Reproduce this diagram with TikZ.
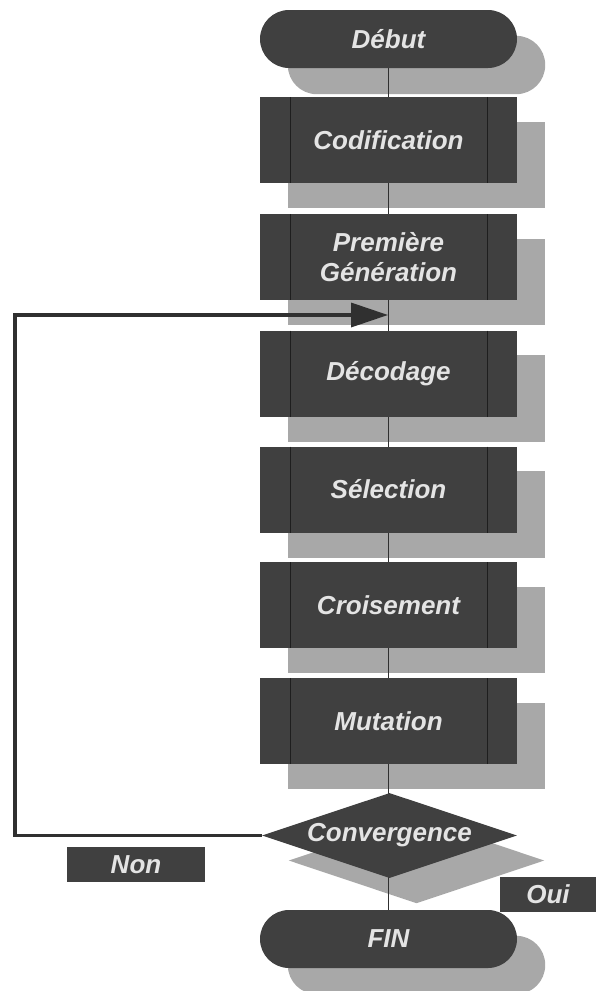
\documentclass[tikz,border=0pt]{standalone}
\usepackage{fontspec}
\usetikzlibrary{arrows.meta,shapes.geometric}
\newfontfamily\labfont{Liberation Sans}
\definecolor{boxc}{HTML}{404040}
\definecolor{shadc}{HTML}{A8A8A8}
\definecolor{txtc}{HTML}{E4E4E4}
\definecolor{linec}{HTML}{303030}
\definecolor{innerc}{HTML}{1E1E1E}
\pgfdeclarelayer{shadowlayer}
\pgfdeclarelayer{axislayer}
\pgfsetlayers{shadowlayer,axislayer,main}
\tikzset{
  lab/.style={text=txtc, font=\labfont\bfseries\itshape\fontsize{26bp}{30bp}\selectfont, align=center},
  procbox/.style={lab, rectangle, fill=boxc, minimum width=257bp, minimum height=86bp, inner sep=0pt,
    path picture={\draw[innerc, line width=0.45bp]
      ([xshift=30bp]path picture bounding box.north west) -- ([xshift=30bp]path picture bounding box.south west)
      ([xshift=-30bp]path picture bounding box.north east) -- ([xshift=-30bp]path picture bounding box.south east);}},
  termbox/.style={lab, rectangle, rounded corners=29bp, fill=boxc, minimum width=257bp, minimum height=58bp, inner sep=0pt},
  decbox/.style={lab, diamond, aspect=3, fill=boxc, minimum width=255bp, minimum height=85bp, inner sep=0pt},
  tagbox/.style={lab, rectangle, fill=boxc, minimum height=35bp, inner sep=0pt},
  shad/.style={fill=shadc},
  midline/.style={draw=linec, line width=0.7bp},
  loopline/.style={draw=linec, line width=3.5bp, -{Triangle[length=37bp,width=24bp]}},
}
\begin{document}
\begin{tikzpicture}[x=1bp,y=-1bp]
\useasboundingbox (0,0) rectangle (596,991);
\node[termbox] (debut) at (388.5,39) {Début};
\node[procbox] (cod) at (388.5,140) {Codification};
\node[procbox] (gen) at (388.5,257) {Première\\Génération};
\node[procbox] (dec) at (388.5,373.5) {Décodage};
\node[procbox] (sel) at (388.5,489.5) {Sélection};
\node[procbox] (cro) at (388.5,605) {Croisement};
\node[procbox] (mut) at (388.5,721) {Mutation};
\node[decbox] (conv) at (389.5,835.5) {Convergence};
\node[tagbox, minimum width=137bp] (non) at (136,864.5) {Non};
\node[tagbox, minimum width=96bp] (oui) at (548,894.5) {Oui};
\node[termbox] (fin) at (388.5,939) {FIN};
\begin{pgfonlayer}{shadowlayer}
  \foreach \n in {cod,gen,dec,sel,cro,mut}
    \fill[shad] ([shift={(28,25)}]\n.north west) rectangle ([shift={(28,25)}]\n.south east);
  \foreach \n in {debut,fin}
    \fill[shad, rounded corners=29bp] ([shift={(28,26)}]\n.north west) rectangle ([shift={(28,26)}]\n.south east);
  \fill[shad] ([shift={(27,25)}]conv.north) -- ([shift={(27,25)}]conv.east)
    -- ([shift={(27,25)}]conv.south) -- ([shift={(27,25)}]conv.west) -- cycle;
\end{pgfonlayer}
\begin{pgfonlayer}{axislayer}
  \draw[midline] (debut.south) -- (fin.north);
\end{pgfonlayer}
\coordinate (lft) at (15,0);
\coordinate (tip) at (388,315);
\draw[loopline] (conv.west) -- (conv.west -| lft) -- (lft |- tip) -- (tip);
\end{tikzpicture}
\end{document}
